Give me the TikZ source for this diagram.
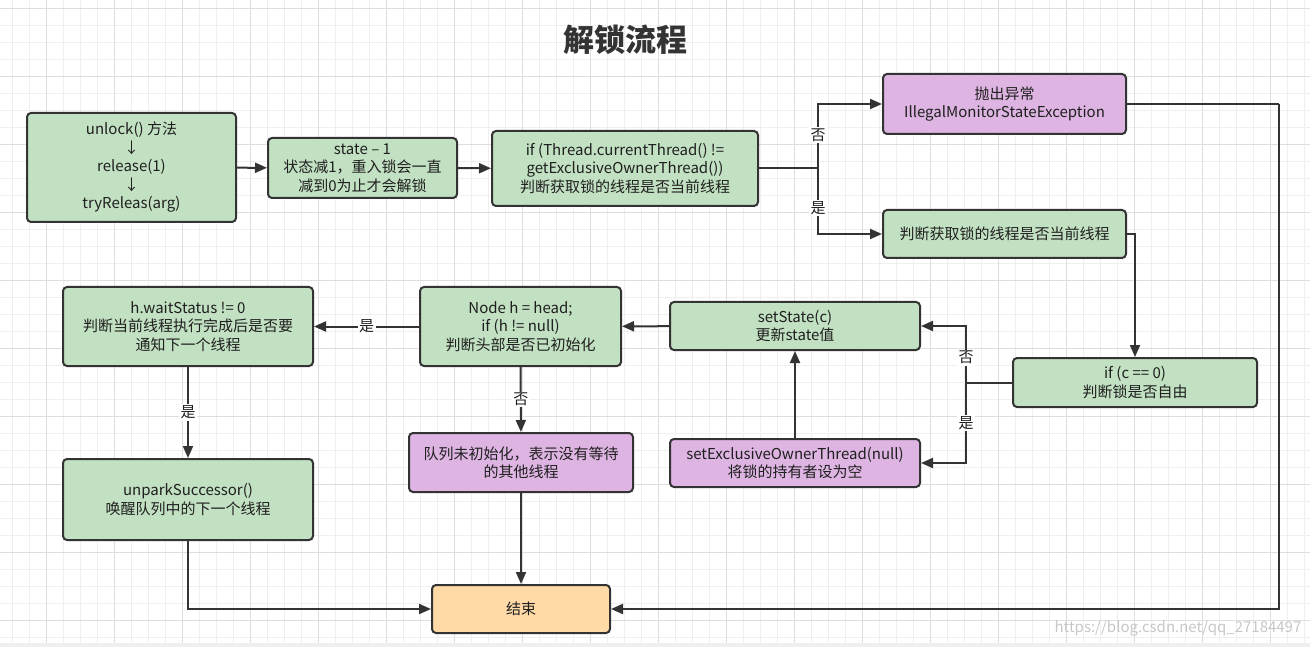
\documentclass[tikz,border=0pt]{standalone}
\usepackage{fontspec}
\setmainfont{Noto Sans CJK SC}
\usetikzlibrary{arrows.meta}
\definecolor{boxgreen}{RGB}{194,224,194}
\definecolor{boxpurple}{RGB}{222,181,226}
\definecolor{boxorange}{RGB}{255,217,166}
\definecolor{ink}{HTML}{333333}
\definecolor{gridminor}{HTML}{EFEFEF}
\definecolor{gridmajor}{HTML}{DEDEDE}
\begin{document}
\begin{tikzpicture}[x=1pt, y=-1pt,
    flowbox/.style={draw=ink, line width=2pt, rounded corners=4pt, align=center, inner sep=0pt,
        text=black!88, font=\fontsize{15}{18.5}\selectfont},
    greenbox/.style={flowbox, fill=boxgreen},
    purplebox/.style={flowbox, fill=boxpurple},
    endbox/.style={flowbox, fill=boxorange},
    flow/.style={draw=ink, line width=2pt, -{Triangle[length=12pt,width=10pt]}},
    link/.style={draw=ink, line width=2pt},
    answer/.style={fill=white, text=black!88, inner sep=1.5pt, font=\fontsize{15}{18}\selectfont}]
    \useasboundingbox (0,0) rectangle (1310,647);
    % background grid
    \foreach \gx in {12,29,...,1310} \draw[gridminor, line width=0.8pt] (\gx,0) -- (\gx,643);
    \foreach \gy in {8,25,...,643} \draw[gridminor, line width=0.8pt] (0,\gy) -- (1310,\gy);
    \foreach \gx in {46,114,...,1310} \draw[gridmajor, line width=0.8pt] (\gx,0) -- (\gx,643);
    \foreach \gy in {8,76,...,643} \draw[gridmajor, line width=0.8pt] (0,\gy) -- (1310,\gy);
    \fill[gridminor] (0,643) rectangle (1310,647);
    \node[text=ink, font=\fontsize{31}{31}\selectfont\bfseries] (title) at (625,40) {解锁流程};
    % boxes
    \node[greenbox, minimum width=209, minimum height=109] (start) at (131.5,167.5)
        {unlock() 方法\\↓\\release(1)\\↓\\tryReleas(arg)};
    \node[greenbox, minimum width=189, minimum height=60] (state) at (362.5,168)
        {state – 1\\状态减1，重入锁会一直\\减到0为止才会解锁};
    \node[greenbox, minimum width=266, minimum height=75] (owner) at (625,168.5)
        {if (Thread.currentThread() !=\\getExclusiveOwnerThread())\\判断获取锁的线程是否当前线程};
    \node[purplebox, minimum width=243, minimum height=60] (except) at (1004.5,104)
        {抛出异常\\IllegalMonitorStateException};
    \node[greenbox, minimum width=243, minimum height=48] (judge) at (1004.5,234)
        {判断获取锁的线程是否当前线程};
    \node[greenbox, minimum width=244, minimum height=49] (czero) at (1135,382.5)
        {if (c == 0)\\判断锁是否自由};
    \node[greenbox, minimum width=250, minimum height=48] (setstate) at (795,326)
        {setState(c)\\更新state值};
    \node[purplebox, minimum width=250, minimum height=48] (clearowner) at (795,463)
        {setExclusiveOwnerThread(null)\\将锁的持有者设为空};
    \node[greenbox, minimum width=201, minimum height=79] (head) at (520.5,326.5)
        {Node h = head;\\if (h != null)\\判断头部是否已初始化};
    \node[greenbox, minimum width=250, minimum height=79] (waitst) at (188,326.5)
        {h.waitStatus != 0\\判断当前线程执行完成后是否要\\通知下一个线程};
    \node[purplebox, minimum width=224, minimum height=59] (noqueue) at (521,462.5)
        {队列未初始化，表示没有等待\\的其他线程};
    \node[greenbox, minimum width=250, minimum height=81] (unpark) at (188,499.5)
        {unparkSuccessor()\\唤醒队列中的下一个线程};
    \node[endbox, minimum width=178, minimum height=48] (finish) at (521,609) {结束};
    % connectors
    \coordinate (ownerfork) at (818,168.5);
    \coordinate (czerofork) at (966,382.5);
    \coordinate (exceptturn) at (1279,104);
    \draw[flow] (start) -- (state);
    \draw[flow] (state) -- (owner);
    \draw[link] (owner.east) -- (ownerfork);
    \draw[flow] (ownerfork) |- (except.west) node[answer, pos=0.26] {否};
    \draw[flow] (ownerfork) |- (judge.west) node[answer, pos=0.3] {是};
    \draw[flow] (judge.east) -| (czero.north);
    \draw[link] (czero.west) -- (czerofork);
    \draw[flow] (czerofork) |- (setstate.east) node[answer, pos=0.22] {否};
    \draw[flow] (czerofork) |- (clearowner.east) node[answer, pos=0.25] {是};
    \draw[flow] (clearowner) -- (setstate);
    \draw[flow] (setstate) -- (head);
    \draw[flow] (head) -- (waitst) node[answer, midway] {是};
    \draw[flow] (head) -- (noqueue) node[answer, midway] {否};
    \draw[flow] (waitst) -- (unpark) node[answer, midway] {是};
    \draw[flow] (noqueue) -- (finish);
    \draw[flow] (unpark.south) |- (finish.west);
    \draw[link] (except.east) -- (exceptturn);
    \draw[flow] (exceptturn) |- (finish.east);
    \node[text=black!22, font=\fontsize{15}{15}\selectfont] (watermark) at (1178,628) {https://blog.csdn.net/qq\_27184497};
\end{tikzpicture}
\end{document}
